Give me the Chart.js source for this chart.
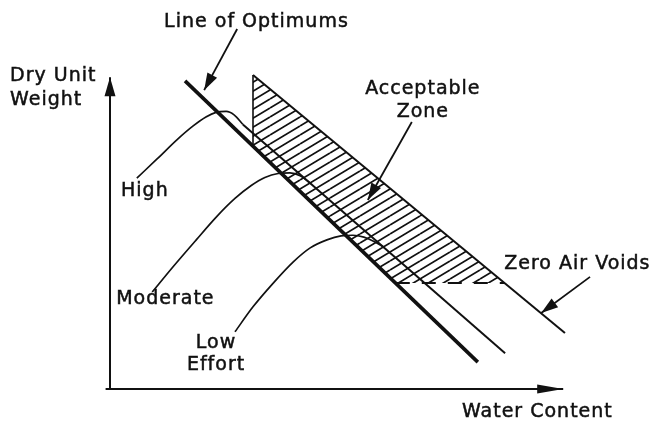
<!DOCTYPE html>
<html>
<head>
<meta charset="utf-8">
<script src="https://cdn.jsdelivr.net/npm/chart.js@4.4.1/dist/chart.umd.min.js"></script>
<style>
  html, body { margin: 0; padding: 0; background: #fff; }
  canvas { display: block; }
</style>
</head>
<body>
<canvas id="chart" width="660" height="426"></canvas>
<script>
// compaction curves: water content (x) vs dry unit weight (y), arbitrary units
const highEffort = [[6.1, 68.3], [10.7, 74.5], [15.2, 80.7], [18.9, 85.2], [21.8, 88.1], [24.1, 89.6], [26.4, 89.9], [28.2, 88.8], [30.2, 85.7]];
const moderateEffort = [[9.6, 31.4], [14.1, 39.2], [19.6, 48.3], [24.3, 55.9], [28.4, 61.7], [32.1, 65.9], [35.2, 68.5], [38.2, 69.8], [40.9, 70.0], [43.2, 69.1], [45.7, 66.5]];
const lowEffort = [[28.4, 18.5], [32.5, 26.6], [37.1, 34.3], [41.6, 41.1], [45.5, 45.7], [49.3, 48.3], [52.5, 49.6], [55.2, 49.8], [57.7, 49.2], [60.0, 47.8], [62.3, 45.9]];
const wetSide = [[30.2, 85.7], [89.8, 11.6]];
const optimumLine = [[17.05, 99.8], [83.6, 8.7]];
const zeroAirVoids = [[32.5, 101.7], [103.4, 18.1]];
const acceptableZone = [[32.5, 101.7], [89.7, 34.3], [64.95, 34.3], [32.5, 78.7]];
const zoneEdge = [[32.5, 101.7], [32.5, 78.7]];
const zoneFloor = [[64.95, 34.3], [89.7, 34.3]];
const waterAxis = [[-1, 0], [103, 0]];
const weightAxis = [[0, 0], [0, 101]];
const optimumPointer = [[28.9, 116.6], [21.4, 96.8]];
const zonePointer = [[68.6, 86.5], [58.6, 61.2]];
const zavPointer = [[109.1, 36.3], [98.0, 24.6]];

const INK = '#111';
const pts = arr => arr.map(p => ({x: p[0], y: p[1]}));

function hatch() {
  const c = document.createElement('canvas');
  c.width = 30; c.height = 18;
  const g = c.getContext('2d');
  g.strokeStyle = INK;
  g.lineWidth = 1.7;
  g.beginPath();
  for (const off of [-18, -9, 0, 9, 18]) {
    g.moveTo(0, 18 + off);
    g.lineTo(30, off);
  }
  g.stroke();
  return g.createPattern(c, 'repeat');
}

function line(data, width, extra) {
  return Object.assign({
    data: pts(data),
    borderColor: INK,
    borderWidth: width,
    pointRadius: 0,
    fill: false,
    tension: 0
  }, extra || {});
}

const arrowHeads = {
  id: 'arrowHeads',
  afterDatasetsDraw(chart) {
    const ctx = chart.ctx;
    chart.data.datasets.forEach((ds, i) => {
      if (!ds.arrow) return;
      const p = chart.getDatasetMeta(i).data;
      const a = p[p.length - 2], b = p[p.length - 1];
      const ang = Math.atan2(b.y - a.y, b.x - a.x);
      const [len, half] = ds.arrow;
      ctx.save();
      ctx.fillStyle = INK;
      ctx.translate(b.x, b.y);
      ctx.rotate(ang);
      ctx.beginPath();
      ctx.moveTo(0, 0);
      ctx.lineTo(-len, -half);
      ctx.lineTo(-len, half);
      ctx.closePath();
      ctx.fill();
      ctx.restore();
    });
  }
};

const textNotes = {
  id: 'textNotes',
  afterDraw(chart, args, opts) {
    const ctx = chart.ctx;
    const sx = chart.scales.x, sy = chart.scales.y;
    ctx.save();
    ctx.fillStyle = INK;
    ctx.strokeStyle = INK;
    ctx.lineWidth = 0.5;
    ctx.font = opts.font;
    ctx.letterSpacing = opts.spacing;
    ctx.textBaseline = 'middle';
    opts.items.forEach(n => {
      ctx.textAlign = n.align || 'left';
      const px = sx.getPixelForValue(n.x), py = sy.getPixelForValue(n.y);
      ctx.fillText(n.text, px, py);
      ctx.strokeText(n.text, px, py);
    });
    ctx.restore();
  }
};

new Chart(document.getElementById('chart'), {
  type: 'line',
  data: {
    datasets: [
      line(acceptableZone, 0, {fill: 'shape', backgroundColor: hatch()}),
      line(zoneEdge, 1.6),
      line(zoneFloor, 2, {borderDash: [14, 12]}),
      line(waterAxis, 2, {arrow: [26, 4.5]}),
      line(weightAxis, 2, {arrow: [19, 5.5]}),
      line(optimumLine, 3.6),
      line(zeroAirVoids, 2),
      line(wetSide, 2),
      line(highEffort, 1.7, {cubicInterpolationMode: 'monotone'}),
      line(moderateEffort, 1.7, {cubicInterpolationMode: 'monotone'}),
      line(lowEffort, 1.7, {cubicInterpolationMode: 'monotone'}),
      line(optimumPointer, 1.8, {arrow: [17, 5.5]}),
      line(zonePointer, 1.8, {arrow: [17, 5.5]}),
      line(zavPointer, 1.8, {arrow: [17, 5.5]})
    ]
  },
  options: {
    responsive: false,
    animation: false,
    devicePixelRatio: 1,
    layout: {padding: 0},
    scales: {
      x: {type: 'linear', min: -25, max: 125, display: false},
      y: {type: 'linear', min: -12, max: 126, display: false}
    },
    plugins: {
      legend: {display: false},
      tooltip: {enabled: false},
      textNotes: {
        font: '19px "DejaVu Sans"',
        spacing: '1px',
        items: [
          {text: 'Line of Optimums', x: 12.3, y: 118.9},
          {text: 'Dry Unit', x: -22.7, y: 101.4},
          {text: 'Weight', x: -22.7, y: 93.6},
          {text: 'Acceptable', x: 71.1, y: 97.2, align: 'center'},
          {text: 'Zone', x: 71.1, y: 89.7, align: 'center'},
          {text: 'High', x: 2.5, y: 64.1},
          {text: 'Moderate', x: 1.4, y: 29.1},
          {text: 'Low', x: 24.1, y: 14.9, align: 'center'},
          {text: 'Effort', x: 24.1, y: 7.8, align: 'center'},
          {text: 'Zero Air Voids', x: 89.6, y: 40.5},
          {text: 'Water Content', x: 80.0, y: -7.5}
        ]
      }
    }
  },
  plugins: [arrowHeads, textNotes]
});
</script>
</body>
</html>
